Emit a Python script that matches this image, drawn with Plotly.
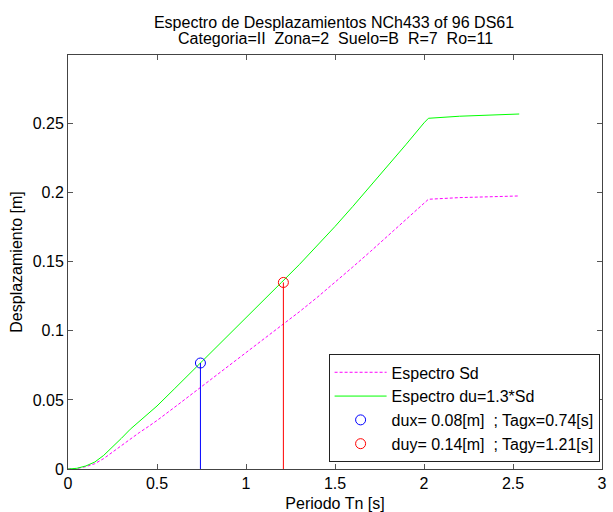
import plotly.graph_objects as go

# Period values [s]
periodo = [0, 0.05, 0.1, 0.15, 0.2, 0.25, 0.3, 0.35, 0.4, 0.45, 0.5, 0.6, 0.7, 0.8, 0.9,
           1.0, 1.1, 1.2, 1.3, 1.4, 1.5, 1.6, 1.7, 1.8, 1.9, 2.0, 2.025, 2.2, 2.4, 2.535]
# Espectro Sd [m]
sd = [0, 0.0004, 0.0017, 0.0038, 0.0075, 0.0122, 0.0171, 0.0222, 0.0263, 0.0306, 0.0351,
      0.0448, 0.0546, 0.0645, 0.0744, 0.0842, 0.0941, 0.1039, 0.1138, 0.1242, 0.1350,
      0.1462, 0.1575, 0.1691, 0.1808, 0.1927, 0.1952, 0.1964, 0.1972, 0.1976]
# Espectro du = 1.3*Sd [m]
du = [0, 0.0005, 0.0022, 0.0050, 0.0098, 0.0158, 0.0222, 0.0288, 0.0342, 0.0398, 0.0456,
      0.0583, 0.0710, 0.0839, 0.0967, 0.1095, 0.1223, 0.1351, 0.1480, 0.1615, 0.1755,
      0.1900, 0.2048, 0.2198, 0.2350, 0.2505, 0.2538, 0.2553, 0.2563, 0.2569]

tagx, dux = 0.744, 0.0767
tagy, duy = 1.21, 0.135

x_ticks = [0, 0.5, 1, 1.5, 2, 2.5, 3]
x_ticklabels = ["0", "0.5", "1", "1.5", "2", "2.5", "3"]
y_ticks = [0, 0.05, 0.1, 0.15, 0.2, 0.25]
y_ticklabels = ["0", "0.05", "0.1", "0.15", "0.2", "0.25"]

title_line1 = "Espectro de Desplazamientos NCh433 of 96 DS61"
title_line2 = "Categoria=II\u00a0 Zona=2\u00a0 Suelo=B\u00a0 R=7\u00a0 Ro=11"
legend_names = ["Espectro Sd", "Espectro du=1.3*Sd",
                "dux= 0.08[m]\u00a0 ; Tagx=0.74[s]", "duy= 0.14[m]\u00a0 ; Tagy=1.21[s]"]

FONT = "Liberation Sans, Arial, Helvetica, sans-serif"

fig = go.Figure()
fig.add_trace(go.Scatter(x=periodo, y=sd, mode="lines", name=legend_names[0],
                         line=dict(color="#ff00ff", width=1, dash="3px,2px")))
fig.add_trace(go.Scatter(x=periodo, y=du, mode="lines", name=legend_names[1],
                         line=dict(color="#00ff00", width=1)))
fig.add_trace(go.Scatter(x=[tagx], y=[dux], mode="markers", name=legend_names[2],
                         marker=dict(symbol="circle-open", size=10, color="#0000ff",
                                     line=dict(width=1, color="#0000ff"))))
fig.add_trace(go.Scatter(x=[tagy], y=[duy], mode="markers", name=legend_names[3],
                         marker=dict(symbol="circle-open", size=10, color="#ff0000",
                                     line=dict(width=1, color="#ff0000"))))
# stems
fig.add_trace(go.Scatter(x=[tagx, tagx], y=[0, dux], mode="lines", showlegend=False,
                         line=dict(color="#0000ff", width=1)))
fig.add_trace(go.Scatter(x=[tagy, tagy], y=[0, duy], mode="lines", showlegend=False,
                         line=dict(color="#ff0000", width=1)))

axis_common = dict(showline=True, linecolor="#444444", linewidth=1, mirror="ticks",
                   ticks="inside", ticklen=5, tickcolor="#555555", showgrid=False,
                   zeroline=False,
                   tickfont=dict(size=16, color="#000000", family=FONT))

fig.update_xaxes(range=[0, 3], tickvals=x_ticks, ticktext=x_ticklabels, automargin=True,
                 title=dict(text="Periodo Tn [s]", font=dict(size=16, color="#000000", family=FONT),
                            standoff=12),
                 **axis_common)
fig.update_yaxes(range=[0, 0.2996], tickvals=y_ticks, ticktext=y_ticklabels, automargin=False,
                 title=dict(text="Desplazamiento [m]", font=dict(size=16, color="#000000", family=FONT),
                            standoff=6),
                 **axis_common)

fig.update_layout(
    width=613, height=512,
    margin=dict(l=68, r=11, t=55, b=43, autoexpand=False),
    paper_bgcolor="white", plot_bgcolor="white",
    font=dict(family=FONT, size=16, color="#000000"),
    title=dict(text=title_line1,
               x=0.5449, xanchor="center", y=1 - 22 / 512, yanchor="middle",
               yref="container", xref="container",
               font=dict(size=16, color="#000000", family=FONT)),
    annotations=[dict(text=title_line2,
                      xref="paper", yref="paper", x=0.5, y=1 + (55 - 38.5) / 414,
                      xanchor="center", yanchor="middle", showarrow=False,
                      font=dict(size=16, color="#000000", family=FONT))],
    legend=dict(x=0.9955, y=0.016, xanchor="right", yanchor="bottom",
                bordercolor="#222222", borderwidth=1, bgcolor="white",
                font=dict(size=16, color="#000000", family=FONT),
                itemwidth=52, tracegroupgap=0),
    showlegend=True,
)

fig.write_html("out.html")
